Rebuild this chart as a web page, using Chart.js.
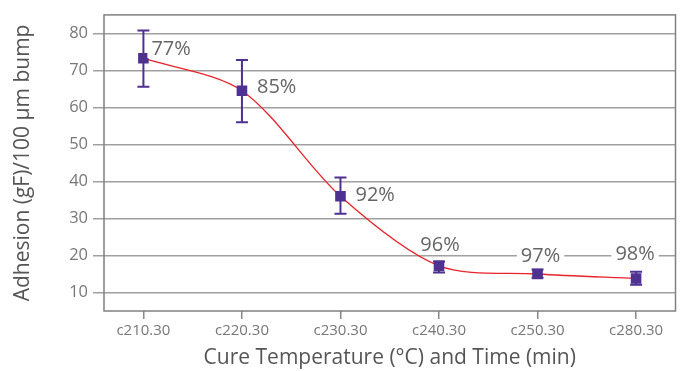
<!DOCTYPE html>
<html>
<head>
<meta charset="utf-8">
<script src="https://cdn.jsdelivr.net/npm/chart.js@4"></script>
<style>
  html, body { margin: 0; padding: 0; background: #fff; }
  #wrap { width: 683px; height: 371px; }
</style>
</head>
<body>
<div id="wrap"><canvas id="adhesionChart" width="683" height="371"></canvas></div>
<script>
const categories = ['c210.30', 'c220.30', 'c230.30', 'c240.30', 'c250.30', 'c280.30'];
const adhesion = [73.3, 64.5, 36.0, 17.2, 15.0, 13.8];
const errHigh = [80.8, 72.8, 41.1, 18.4, 16.2, 15.6];
const errLow = [65.6, 56.0, 31.3, 15.4, 14.0, 12.1];
const yieldLabels = ['77%', '85%', '92%', '96%', '97%', '98%'];
const yTicks = [10, 20, 30, 40, 50, 60, 70, 80];

const purple = '#4f3191';
const gridGrey = '#a0a0a0';
const font = "'Open Sans', sans-serif";

// label offsets from the marker (first three sit to the right, the rest above)
const labelPos = [
    { dx: 8, dy: -10, align: 'left' },
    { dx: 15, dy: -4, align: 'left' },
    { dx: 15, dy: -2, align: 'left' },
    { dx: 1, dy: -22, align: 'center' },
    { dx: 3, dy: -19, align: 'center' },
    { dx: -1, dy: -25, align: 'center' }
];

const points = adhesion.map((v, i) => ({ x: i, y: v }));

const errorBars = {
    id: 'errorBars',
    afterDatasetsDraw(chart) {
        const { ctx, scales: { x, y } } = chart;
        ctx.save();
        ctx.strokeStyle = purple;
        ctx.lineWidth = 2;
        adhesion.forEach((v, i) => {
            const px = x.getPixelForValue(i);
            const top = y.getPixelForValue(errHigh[i]);
            const bot = y.getPixelForValue(errLow[i]);
            ctx.beginPath();
            ctx.moveTo(px, top); ctx.lineTo(px, bot);
            ctx.moveTo(px - 6, top); ctx.lineTo(px + 6, top);
            ctx.moveTo(px - 6, bot); ctx.lineTo(px + 6, bot);
            ctx.stroke();
        });
        ctx.restore();
    }
};

const valueLabels = {
    id: 'valueLabels',
    afterDraw(chart) {
        const { ctx, scales: { x, y } } = chart;
        ctx.save();
        ctx.font = '20px ' + font;
        ctx.textBaseline = 'middle';
        yieldLabels.forEach((t, i) => {
            const p = labelPos[i];
            const px = x.getPixelForValue(i) + p.dx;
            const py = y.getPixelForValue(adhesion[i]) + p.dy;
            const w = ctx.measureText(t).width;
            const left = p.align === 'left' ? px : px - w / 2;
            ctx.fillStyle = '#fff';
            ctx.fillRect(left - 4, py - 10, w + 8, 20);
            ctx.fillStyle = '#666';
            ctx.textAlign = p.align;
            ctx.fillText(t, px, py + 1);
        });
        ctx.restore();
    }
};

const plotBox = {
    id: 'plotBox',
    beforeDatasetsDraw(chart) {
        const { ctx, chartArea: a } = chart;
        ctx.save();
        ctx.strokeStyle = '#808080';
        ctx.lineWidth = 1.5;
        ctx.strokeRect(a.left, a.top, a.right - a.left, a.bottom - a.top);
        ctx.restore();
    }
};

const ctx = document.getElementById('adhesionChart').getContext('2d');
new Chart(ctx, {
    type: 'line',
    data: {
        datasets: [{
            data: points,
            borderColor: '#e8232b',
            borderWidth: 1.3,
            tension: 0.3,
            pointStyle: 'rect',
            pointRadius: 7.5,
            pointBackgroundColor: purple,
            pointBorderColor: purple,
            pointBorderWidth: 0,
            fill: false
        }]
    },
    plugins: [plotBox, errorBars, valueLabels],
    options: {
        responsive: false,
        animation: false,
        layout: { padding: { top: 13, right: 6, left: 0, bottom: 0 } },
        plugins: { legend: { display: false }, tooltip: { enabled: false } },
        scales: {
            x: {
                type: 'linear',
                min: -0.4,
                max: 5.4,
                afterBuildTicks(s) { s.ticks = categories.map((c, i) => ({ value: i })); },
                afterFit(s) { s.height = 60; },
                ticks: {
                    callback: (v) => categories[v],
                    color: '#777',
                    font: { family: font, size: 15 },
                    padding: 3,
                    maxRotation: 0
                },
                grid: { drawOnChartArea: false, color: '#888', tickLength: 8, lineWidth: 1.5 },
                border: { display: false },
                title: {
                    display: true,
                    text: 'Cure Temperature (°C) and Time (min)',
                    color: '#555',
                    font: { family: font, size: 21 },
                    padding: { top: 2, bottom: 0 }
                }
            },
            y: {
                min: 5,
                max: 85,
                afterBuildTicks(s) { s.ticks = yTicks.map(v => ({ value: v })); },
                afterFit(s) { s.width = 104; },
                ticks: {
                    color: '#777',
                    font: { family: font, size: 16.5 },
                    padding: 5
                },
                grid: { color: gridGrey, lineWidth: 1.5, tickLength: 11 },
                border: { display: false },
                title: {
                    display: true,
                    text: 'Adhesion (gF)/100 μm bump',
                    color: '#555',
                    font: { family: font, size: 21 },
                    padding: { top: 10, bottom: 6 }
                }
            }
        }
    }
});
</script>
</body>
</html>
